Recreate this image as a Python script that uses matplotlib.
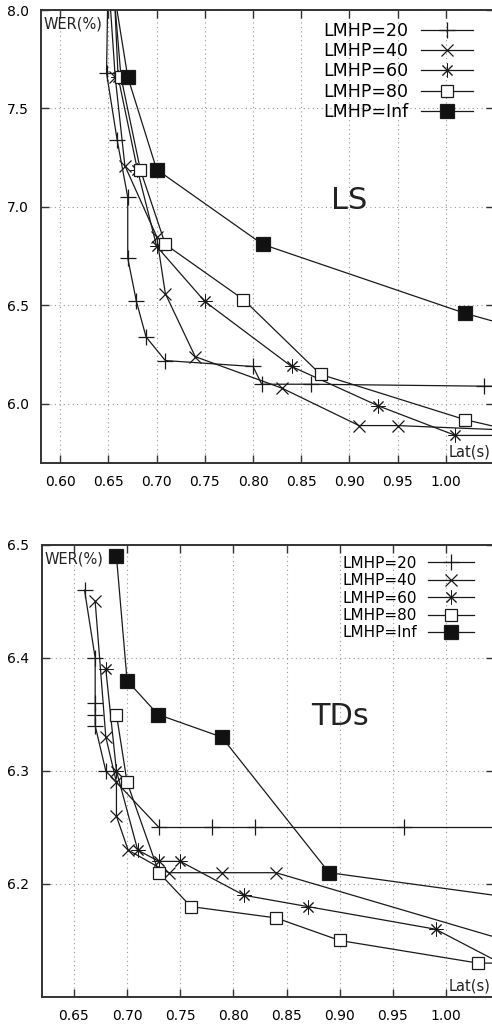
import numpy as np
import matplotlib.pyplot as plt

plt.rcParams['font.family'] = 'DejaVu Sans'

labels = ['LMHP=20', 'LMHP=40', 'LMHP=60', 'LMHP=80', 'LMHP=Inf']

# LS set (points beyond the axis range only give the direction of the clipped line)
ls_20_x = [0.650, 0.648, 0.659, 0.670, 0.670, 0.679, 0.689, 0.709, 0.800, 0.809, 0.860, 1.040, 1.100]
ls_20_y = [8.30, 7.68, 7.34, 7.05, 6.74, 6.52, 6.34, 6.22, 6.19, 6.10, 6.10, 6.09, 6.09]
ls_40_x = [0.648, 0.657, 0.667, 0.700, 0.709, 0.740, 0.830, 0.910, 0.950, 1.100]
ls_40_y = [8.30, 7.66, 7.21, 6.85, 6.56, 6.24, 6.08, 5.89, 5.89, 5.86]
ls_60_x = [0.654, 0.660, 0.680, 0.700, 0.750, 0.840, 0.930, 1.010, 1.100]
ls_60_y = [8.30, 7.66, 7.19, 6.80, 6.52, 6.19, 5.99, 5.84, 5.84]
ls_80_x = [0.652, 0.663, 0.683, 0.709, 0.790, 0.870, 1.020, 1.100]
ls_80_y = [8.30, 7.66, 7.19, 6.81, 6.53, 6.15, 5.92, 5.83]
ls_inf_x = [0.649, 0.670, 0.700, 0.810, 1.020, 1.100]
ls_inf_y = [8.30, 7.66, 7.19, 6.81, 6.46, 6.35]

# TDs set
td_20_x = [0.660, 0.670, 0.670, 0.670, 0.670, 0.680, 0.730, 0.780, 0.820, 0.960, 1.100]
td_20_y = [6.46, 6.40, 6.36, 6.35, 6.34, 6.30, 6.25, 6.25, 6.25, 6.25, 6.25]
td_40_x = [0.670, 0.680, 0.690, 0.690, 0.701, 0.739, 0.789, 0.840, 1.100]
td_40_y = [6.45, 6.33, 6.29, 6.26, 6.23, 6.21, 6.21, 6.21, 6.138]
td_60_x = [0.680, 0.690, 0.710, 0.730, 0.750, 0.810, 0.870, 0.990, 1.100]
td_60_y = [6.39, 6.30, 6.23, 6.22, 6.22, 6.19, 6.18, 6.16, 6.106]
td_80_x = [0.690, 0.700, 0.730, 0.760, 0.840, 0.900, 1.030, 1.100]
td_80_y = [6.35, 6.29, 6.21, 6.18, 6.17, 6.15, 6.13, 6.13]
td_inf_x = [0.690, 0.700, 0.729, 0.789, 0.890, 1.100]
td_inf_y = [6.49, 6.38, 6.35, 6.33, 6.21, 6.183]

ls_xticks = [0.60, 0.65, 0.70, 0.75, 0.80, 0.85, 0.90, 0.95, 1.00]
ls_yticks = [6.0, 6.5, 7.0, 7.5, 8.0]
td_xticks = [0.65, 0.70, 0.75, 0.80, 0.85, 0.90, 0.95, 1.00]
td_yticks = [6.2, 6.3, 6.4, 6.5]

styles = [
    dict(marker='+', ms=11, mew=0.9),
    dict(marker='x', ms=9, mew=0.9),
    dict(marker=(8, 2, 0), ms=10, mew=0.7),
    dict(marker='s', ms=9, mew=0.9, mfc='white'),
    dict(marker='s', ms=10, mew=0.9, mfc='#111111'),
]

fig = plt.figure(figsize=(4.92, 10.25), dpi=100)
ax1 = fig.add_axes([41 / 492, 1 - 463 / 1025, 453 / 492, 453 / 1025])
ax2 = fig.add_axes([42 / 492, 1 - 997 / 1025, 452 / 492, 452 / 1025])


def draw(ax, xs, ys, xlim, ylim, xticks, yticks, name, name_xy, leg_fs, spacing, anchor_x):
    for x, y, lab, st in zip(xs, ys, labels, styles):
        ax.plot(x, y, color='#1a1a1a', lw=0.9, mec='#1a1a1a', label=lab, **st)
    ax.set_xlim(*xlim)
    ax.set_ylim(*ylim)
    ax.set_xticks(xticks)
    ax.set_yticks(yticks)
    ax.set_xticklabels(['%.2f' % v for v in xticks])
    ax.set_yticklabels(['%.1f' % v for v in yticks])
    ax.tick_params(direction='in', length=6, width=1, top=True, right=True,
                   labelsize=10, pad=9, color='#333333')
    ax.grid(True, ls=(0, (1, 3)), color='#999999', lw=0.8)
    for sp in ax.spines.values():
        sp.set_linewidth(1.4)
        sp.set_color('#333333')
    ax.text(0.006, 0.985, 'WER(%)', transform=ax.transAxes, ha='left', va='top',
            fontsize=10.5, color='#222222')
    ax.text(0.992, 0.008, 'Lat(s)', transform=ax.transAxes, ha='right', va='bottom',
            fontsize=10.5, color='#222222')
    ax.text(name_xy[0], name_xy[1], name, transform=ax.transAxes, ha='center',
            va='center', fontsize=22, color='#222222')
    ax.legend(loc='upper right', bbox_to_anchor=(anchor_x, 1.0), markerfirst=False,
              frameon=False, handlelength=3.0, fontsize=leg_fs, labelspacing=spacing,
              handletextpad=0.73, borderaxespad=0.3)


draw(ax1, [ls_20_x, ls_40_x, ls_60_x, ls_80_x, ls_inf_x],
     [ls_20_y, ls_40_y, ls_60_y, ls_80_y, ls_inf_y],
     (0.58, 1.05), (5.7, 8.0), ls_xticks, ls_yticks, 'LS', (0.68, 0.58),
     12.5, 0.125, 0.98)
draw(ax2, [td_20_x, td_40_x, td_60_x, td_80_x, td_inf_x],
     [td_20_y, td_40_y, td_60_y, td_80_y, td_inf_y],
     (0.62, 1.045), (6.1, 6.5), td_xticks, td_yticks, 'TDs', (0.66, 0.62),
     11, 0.16, 0.979)

fig.savefig('out.png', dpi=100)
